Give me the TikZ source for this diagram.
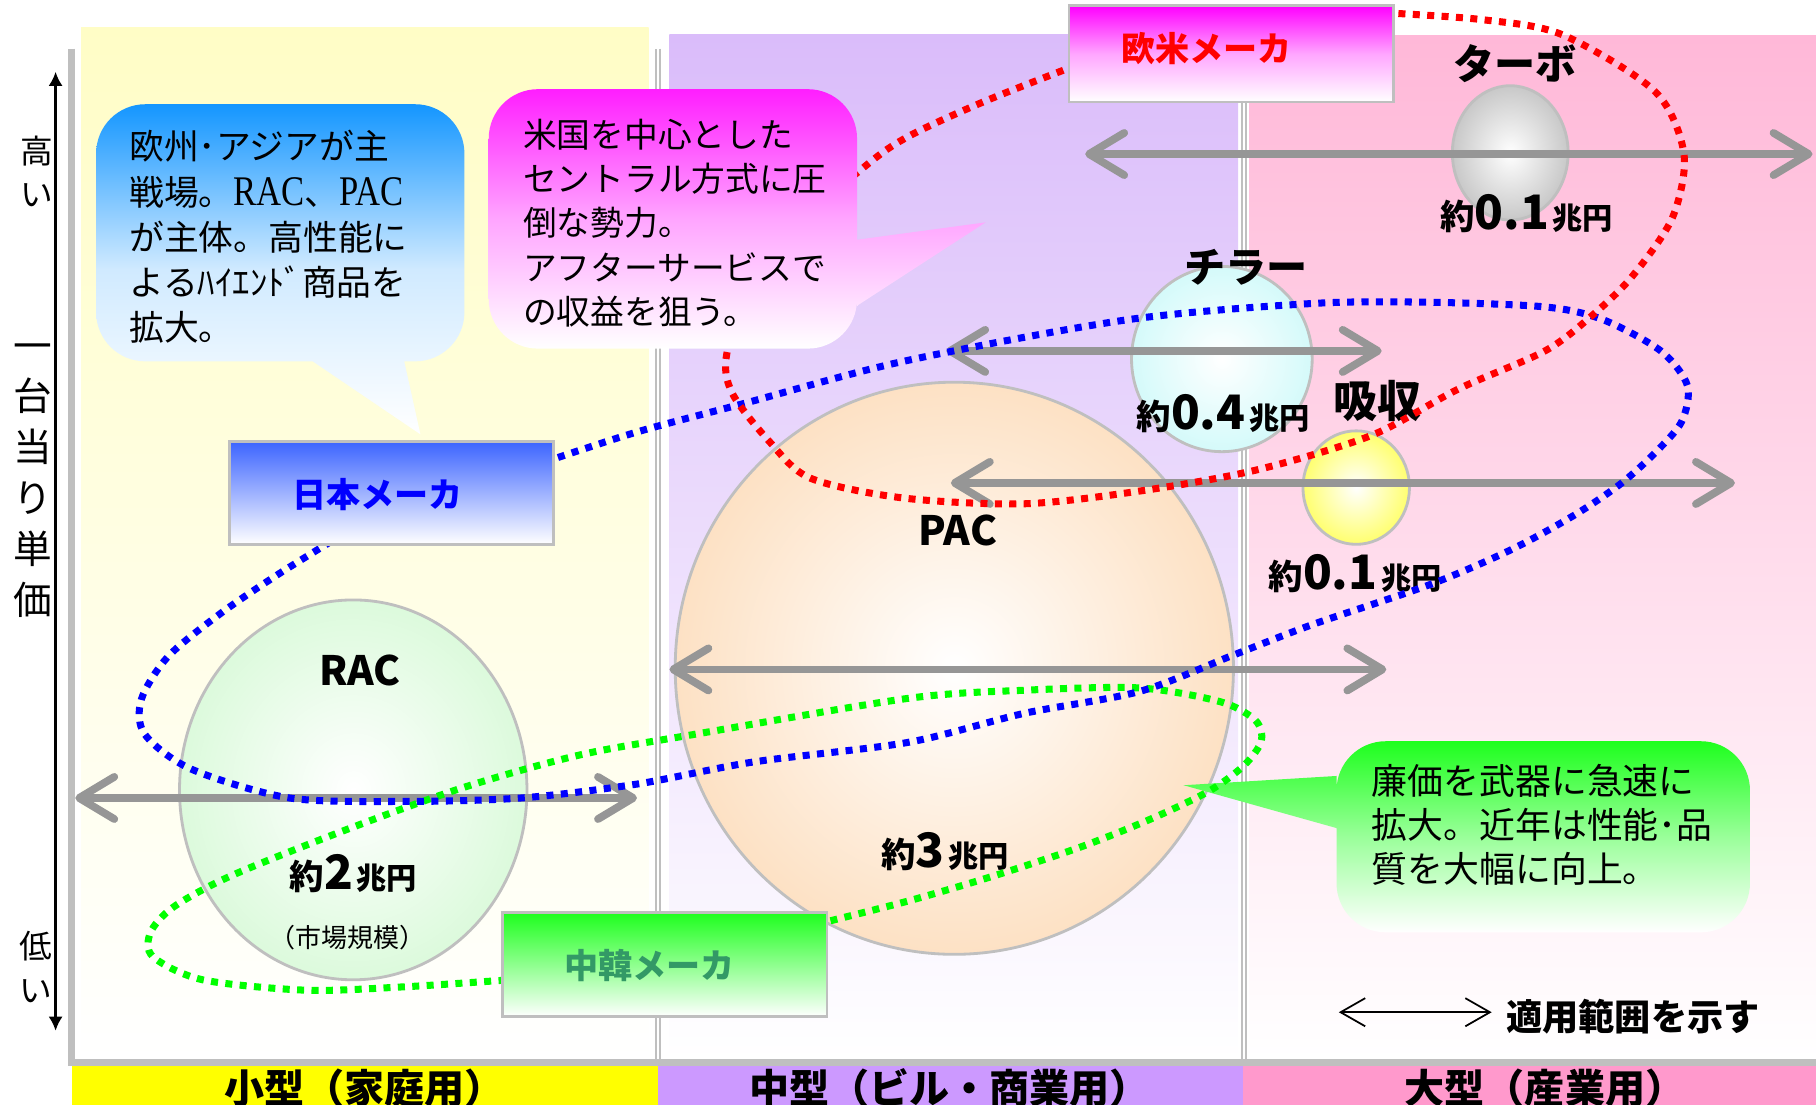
\documentclass[tikz,border=0pt]{standalone}
\usepackage{fontspec}
\setmainfont{Noto Sans CJK JP}
\newfontfamily\latinser[FakeStretch=0.82]{Liberation Serif}
\usetikzlibrary{arrows.meta}

\definecolor{colyellow}{RGB}{255,253,198}
\definecolor{colpurple}{RGB}{218,188,250}
\definecolor{colpink}{RGB}{255,184,216}
\definecolor{bandyellow}{RGB}{255,255,0}
\definecolor{bandpurple}{RGB}{204,153,255}
\definecolor{bandpink}{RGB}{255,153,204}
\definecolor{framegray}{RGB}{191,191,191}
\definecolor{rangegray}{RGB}{150,150,150}
\definecolor{bubbleblue}{RGB}{20,150,255}
\definecolor{bubblemag}{RGB}{255,30,255}
\definecolor{bubblegreen}{RGB}{30,255,30}
\definecolor{boxblue}{RGB}{60,100,255}
\definecolor{kangreen}{RGB}{51,153,102}
\definecolor{racgreen}{RGB}{220,250,220}
\definecolor{pacpeach}{RGB}{253,225,196}
\definecolor{chillcyan}{RGB}{212,250,250}
\definecolor{absyellow}{RGB}{255,255,110}
\definecolor{turbogray}{RGB}{200,200,200}

\newcommand{\chouen}[1]{{\fontsize{9.8}{12}\selectfont 約}{\fontsize{13.5}{14}\selectfont #1}\kern1pt{\fontsize{8.6}{10}\selectfont 兆円}}

\tikzset{
  divider/.style={draw=framegray, line width=0.5pt, double=white, double distance=0.6pt},
  axisframe/.style={draw=framegray, line width=2pt},
  market/.style={draw=framegray, line width=0.8pt},
  rangearrow/.style={draw=rangegray, line width=2.2pt,
    {Straight Barb[length=10pt,width=12pt,round]}-{Straight Barb[length=10pt,width=12pt,round]}},
  legendarrow/.style={line width=0.5pt,
    {Straight Barb[length=7pt,width=8pt]}-{Straight Barb[length=7pt,width=8pt]}},
  dotloop/.style={line width=2pt, dash pattern=on 2pt off 2.1pt},
  makerbox/.style={draw=framegray, line width=0.8pt},
  makerlbl/.style={font=\bfseries\fontsize{9.7}{11}\selectfont, inner sep=0pt},
  sizelbl/.style={font=\bfseries\fontsize{11.7}{13}\selectfont, inner sep=0pt},
  amountlbl/.style={font=\bfseries, anchor=base, inner sep=0pt},
  bandlbl/.style={font=\bfseries\fontsize{11.4}{12}\selectfont, anchor=base, inner sep=0pt},
  bubbletext/.style={anchor=north west, align=left, inner sep=0pt},
}

\begin{document}
\begin{tikzpicture}[x=0.01158cm, y=-0.01158cm]
\useasboundingbox (0,0) rectangle (1568,954);

% columns
\shade[top color=colyellow, bottom color=white] (70,24) rectangle (560,915);
\shade[top color=colpurple, bottom color=white] (578,30) rectangle (1069,915);
\shade[top color=colpink, bottom color=white] (1079,31) rectangle (1568,915);
\draw[divider] (568,42) -- (568,915);
\draw[divider] (1074,42) -- (1074,915);

% frame and bottom band
\draw[axisframe] (62,42) -- (62,917) -- (1568,917);
\fill[bandyellow] (62,920) rectangle (568,960);
\fill[bandpurple] (568,920) rectangle (1073,960);
\fill[bandpink] (1073,920) rectangle (1568,960);
\node[bandlbl] (small) at (315,953) {小型（家庭用）};
\node[bandlbl] (middle) at (820,953) {中型（ビル・商業用）};
\node[bandlbl] (large) at (1334,953) {大型（産業用）};

% price axis
\coordinate (axtop) at (48,62);
\coordinate (axbot) at (48,890);
\draw[line width=0.7pt, {Latex[length=4pt,width=4pt]}-{Latex[length=4pt,width=4pt]}] (axtop) -- (axbot);
\node[font=\fontsize{9.3}{12.2}\selectfont, align=center, inner sep=0pt] (high) at (32,148) {高\\い};
\node[font=\fontsize{11}{14.5}\selectfont, align=center, inner sep=0pt] (price) at (28,415) {一\\台\\当\\り\\単\\価};
\node[font=\fontsize{9.3}{12.5}\selectfont, align=center, inner sep=0pt] (low) at (31,835) {低\\い};

% markets
\shadedraw[market, inner color=white, outer color=turbogray] (1304,132) ellipse [x radius=50, y radius=58];
\shadedraw[market, inner color=white, outer color=chillcyan] (1055,310) ellipse [x radius=78, y radius=80];
\shadedraw[market, inner color=white, outer color=absyellow] (1171,421) ellipse [x radius=46, y radius=49];
\shadedraw[market, inner color=white, outer color=pacpeach] (824,577) ellipse [x radius=241, y radius=247];
\shadedraw[market, inner color=white, outer color=racgreen] (305,682) ellipse [x radius=150, y radius=164];

% ranges
\coordinate (turboL) at (937,133);
\coordinate (turboR) at (1565,133);
\coordinate (chillL) at (817,303);
\coordinate (chillR) at (1193,303);
\coordinate (absL) at (821,417);
\coordinate (absR) at (1498,417);
\coordinate (pacL) at (578,578);
\coordinate (pacR) at (1197,578);
\coordinate (racL) at (65,689);
\coordinate (racR) at (550,689);
\draw[rangearrow] (turboL) -- (turboR);
\draw[rangearrow] (chillL) -- (chillR);
\draw[rangearrow] (absL) -- (absR);
\draw[rangearrow] (pacL) -- (pacR);
\draw[rangearrow] (racL) -- (racR);

\node[sizelbl] (turbo) at (1308,55) {ターボ};
\node[amountlbl] (turbosum) at (1318,198) {\chouen{0.1}};
\node[sizelbl] (chiller) at (1076,231) {チラー};
\node[amountlbl] (chillsum) at (1056,371) {\chouen{0.4}};
\node[sizelbl, font=\bfseries\fontsize{12.5}{14}\selectfont] (absorb) at (1189,346) {吸収};
\node[amountlbl] (abssum) at (1170,509) {\chouen{0.1}};
\node[sizelbl, font=\bfseries\fontsize{11.5}{13}\selectfont] (pac) at (827,458) {PAC};
\node[amountlbl] (pacsum) at (816,749) {\chouen{3}};
\node[sizelbl, font=\bfseries\fontsize{11.5}{13}\selectfont] (rac) at (311,579) {RAC};
\node[amountlbl] (racsum) at (305,768) {\chouen{2}};
\node[font=\fontsize{7.4}{9}\selectfont, inner sep=0pt] (scale) at (300,810) {（市場規模）};

% bubbles
\shade[top color=bubbleblue, bottom color=white, middle color=bubbleblue!20]
  [rounded corners=14pt] (83,90) rectangle (401,312)
  [sharp corners] (270,312) -- (363,375) -- (349,312) -- cycle;
\node[bubbletext, font=\fontsize{9.9}{12.85}\selectfont] (eunote) at (111,112)
  {欧州･アジアが主\\戦場。{\latinser\fontsize{12}{12.85}\selectfont RAC}、{\latinser\fontsize{12}{12.85}\selectfont PAC}\\が主体。高性能に\\よるﾊｲｴﾝﾄﾞ商品を\\拡大。};
\shade[top color=bubblegreen, bottom color=white, middle color=bubblegreen!45]
  [rounded corners=14pt] (1154,640) rectangle (1511,805)
  [sharp corners] (1154,670) -- (1022,678) -- (1154,715) -- cycle;
\node[bubbletext, font=\fontsize{10.2}{12.5}\selectfont] (cknote) at (1184,659)
  {廉価を武器に急速に\\拡大。近年は性能･品\\質を大幅に向上。};

% maker loops
\draw[dotloop, green] plot[smooth] coordinates {(705,798) (784,778) (859,756) (934,731) (994,707)
  (1044,683) (1074,661) (1089,640) (1084,622) (1054,606) (984,594) (884,596) (784,603) (600,634)
  (500,652) (400,680) (300,716) (200,756) (150,783) (130,805) (132,826) (175,846) (265,855)
  (350,852) (440,846)};
\draw[dotloop, blue] plot[smooth] coordinates {(470,399) (550,373) (640,349) (780,312) (974,276)
  (1134,262) (1234,261) (1334,265) (1384,276) (1434,303) (1457,333) (1452,364) (1429,391)
  (1399,418) (1359,445) (1304,475) (1234,505) (1134,539) (1064,566) (984,597) (884,616)
  (784,641) (650,658) (550,677) (450,689) (350,692) (250,689) (165,664) (125,634) (122,604)
  (145,567) (190,530) (240,496) (290,465)};
\draw[dotloop, red] plot[smooth] coordinates {(1195,11) (1280,17) (1349,30) (1429,79) (1454,133)
  (1444,188) (1409,239) (1374,273) (1334,303) (1259,336) (1184,376) (1084,406) (984,424)
  (884,435) (780,430) (700,413) (665,382) (632,339) (628,303) (655,225) (744,146) (784,118)
  (849,88) (925,58)};

\shade[top color=bubblemag, bottom color=white, middle color=bubblemag!40]
  [rounded corners=14pt] (422,77) rectangle (740,301)
  [sharp corners] (740,207) -- (851,192) -- (740,264) -- cycle;
\node[bubbletext, font=\fontsize{9.6}{12.6}\selectfont] (usnote) at (451,102)
  {米国を中心とした\\セントラル方式に圧\\倒な勢力。\\アフターサービスで\\の収益を狙う。};

% maker boxes
\shadedraw[makerbox, top color=magenta, bottom color=white, middle color=magenta!35] (923,5) rectangle (1203,88);
\node[makerlbl, text=red] (oubei) at (1042,42) {欧米メーカ};
\shadedraw[makerbox, top color=boxblue, bottom color=white] (198,381) rectangle (478,470);
\node[makerlbl, text=blue] (japan) at (326,427) {日本メーカ};
\shadedraw[makerbox, top color=bubblegreen, bottom color=white] (434,788) rectangle (714,878);
\node[makerlbl, text=kangreen] (chinakorea) at (561,834) {中韓メーカ};

% legend
\coordinate (lgL) at (1156,874);
\coordinate (lgR) at (1288,874);
\draw[legendarrow] (lgL) -- (lgR);
\node[font=\bfseries\fontsize{10.3}{12}\selectfont, inner sep=0pt] (legend) at (1410,878) {適用範囲を示す};

\end{tikzpicture}
\end{document}
